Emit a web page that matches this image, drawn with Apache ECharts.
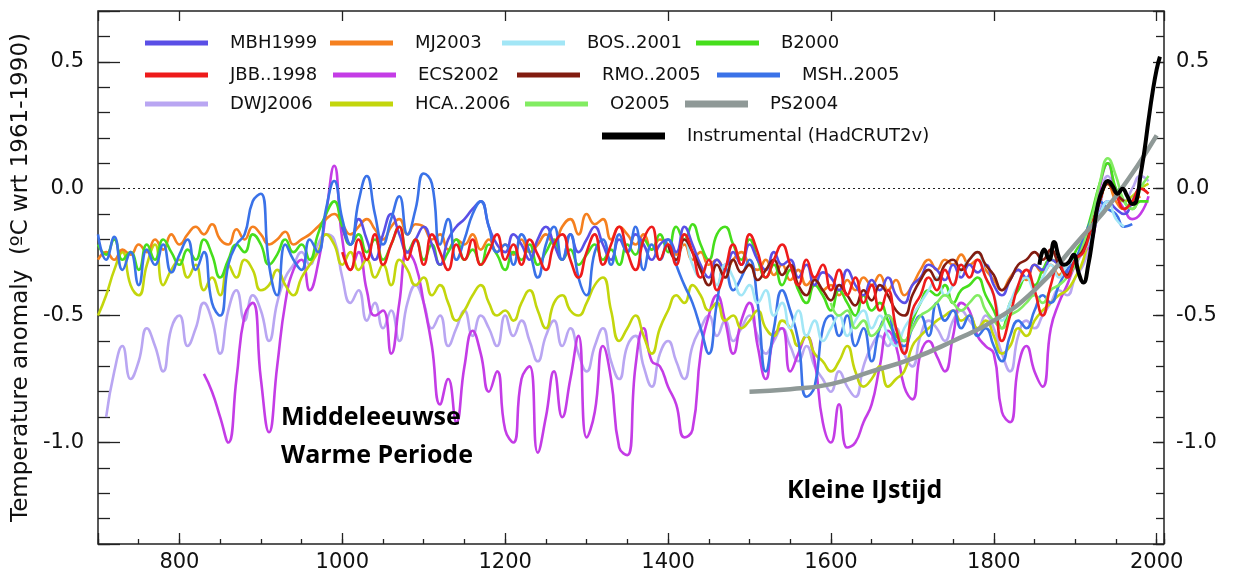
<!DOCTYPE html>
<html><head><meta charset="utf-8">
<script src="https://cdn.jsdelivr.net/npm/echarts@6/dist/echarts.min.js"></script>
<style>html,body{margin:0;padding:0;background:#fff}#c{width:1233px;height:578px}</style>
</head><body><div id="c"></div>
<script>
// ---- DATA (decadal values) ----
const STEP = 10;
const mbh1999Start = 1000;
const mbh1999 = [-0.15,-0.22,-0.12,-0.20,-0.28,-0.18,-0.10,-0.18,-0.25,-0.20,-0.15,-0.22,-0.30,-0.20,-0.15,-0.12,-0.08,-0.05,-0.15,-0.22,-0.25,-0.18,-0.22,-0.28,-0.20,-0.15,-0.22,-0.28,-0.18,-0.25,-0.20,-0.15,-0.22,-0.28,-0.20,-0.25,-0.18,-0.22,-0.28,-0.22,-0.20,-0.25,-0.15,-0.22,-0.30,-0.35,-0.28,-0.32,-0.25,-0.30,-0.22,-0.28,-0.32,-0.25,-0.30,-0.28,-0.35,-0.30,-0.38,-0.33,-0.35,-0.40,-0.32,-0.38,-0.42,-0.36,-0.40,-0.35,-0.42,-0.45,-0.38,-0.35,-0.30,-0.32,-0.36,-0.30,-0.35,-0.30,-0.33,-0.30,-0.38,-0.42,-0.36,-0.32,-0.35,-0.30,-0.32,-0.28,-0.30,-0.33,-0.28,-0.25,-0.18,-0.10,-0.05,-0.08,-0.10,-0.05,0.02];
const mj2003Start = 700;
const mj2003 = [-0.28,-0.25,-0.28,-0.24,-0.26,-0.22,-0.25,-0.20,-0.24,-0.18,-0.22,-0.18,-0.15,-0.18,-0.14,-0.20,-0.22,-0.16,-0.20,-0.15,-0.18,-0.22,-0.20,-0.17,-0.22,-0.20,-0.18,-0.15,-0.12,-0.10,-0.14,-0.18,-0.15,-0.12,-0.16,-0.20,-0.15,-0.12,-0.18,-0.14,-0.15,-0.20,-0.18,-0.24,-0.20,-0.22,-0.18,-0.24,-0.20,-0.25,-0.22,-0.26,-0.20,-0.25,-0.22,-0.18,-0.22,-0.15,-0.12,-0.18,-0.10,-0.14,-0.12,-0.20,-0.15,-0.18,-0.22,-0.18,-0.24,-0.20,-0.22,-0.26,-0.22,-0.28,-0.25,-0.30,-0.28,-0.32,-0.28,-0.25,-0.30,-0.32,-0.28,-0.34,-0.30,-0.36,-0.32,-0.38,-0.35,-0.40,-0.38,-0.42,-0.36,-0.40,-0.35,-0.38,-0.34,-0.40,-0.36,-0.42,-0.38,-0.32,-0.28,-0.32,-0.28,-0.30,-0.26,-0.30,-0.28,-0.32,-0.36,-0.40,-0.35,-0.32,-0.36,-0.30,-0.33,-0.30,-0.34,-0.30,-0.28,-0.22,-0.15,-0.05,0.02,-0.05,-0.08,-0.05,-0.03];
const bos2001Start = 1400;
const bos2001 = [-0.22,-0.28,-0.20,-0.30,-0.35,-0.28,-0.38,-0.30,-0.35,-0.42,-0.38,-0.45,-0.40,-0.50,-0.45,-0.55,-0.48,-0.58,-0.52,-0.60,-0.55,-0.50,-0.58,-0.52,-0.48,-0.55,-0.50,-0.58,-0.62,-0.55,-0.50,-0.45,-0.40,-0.35,-0.42,-0.38,-0.32,-0.28,-0.25,-0.35,-0.42,-0.52,-0.45,-0.38,-0.35,-0.40,-0.35,-0.30,-0.35,-0.30,-0.28,-0.25,-0.18,-0.10,-0.05,-0.12,-0.15];
const b2000Start = 700;
const b2000 = [-0.22,-0.26,-0.20,-0.28,-0.25,-0.32,-0.22,-0.28,-0.20,-0.25,-0.30,-0.24,-0.28,-0.20,-0.26,-0.35,-0.28,-0.22,-0.25,-0.18,-0.22,-0.30,-0.26,-0.20,-0.25,-0.22,-0.28,-0.18,-0.10,-0.05,-0.15,-0.22,-0.18,-0.25,-0.20,-0.28,-0.22,-0.15,-0.25,-0.20,-0.28,-0.22,-0.30,-0.25,-0.20,-0.28,-0.24,-0.30,-0.22,-0.26,-0.32,-0.25,-0.28,-0.22,-0.30,-0.25,-0.20,-0.28,-0.24,-0.30,-0.26,-0.22,-0.28,-0.24,-0.30,-0.22,-0.26,-0.20,-0.24,-0.18,-0.25,-0.15,-0.20,-0.14,-0.22,-0.28,-0.18,-0.15,-0.22,-0.28,-0.20,-0.28,-0.35,-0.30,-0.38,-0.32,-0.40,-0.45,-0.38,-0.42,-0.48,-0.40,-0.45,-0.50,-0.42,-0.48,-0.45,-0.52,-0.58,-0.60,-0.52,-0.45,-0.40,-0.42,-0.38,-0.45,-0.40,-0.38,-0.35,-0.42,-0.48,-0.55,-0.45,-0.40,-0.35,-0.38,-0.32,-0.28,-0.30,-0.35,-0.25,-0.20,-0.10,0.02,0.10,0.00,-0.05,-0.08,-0.05,-0.05];
const jbb1998Start = 1000;
const jbb1998 = [-0.25,-0.32,-0.20,-0.28,-0.18,-0.30,-0.22,-0.15,-0.28,-0.20,-0.30,-0.18,-0.25,-0.32,-0.22,-0.28,-0.20,-0.30,-0.25,-0.18,-0.28,-0.22,-0.30,-0.20,-0.26,-0.32,-0.22,-0.18,-0.28,-0.35,-0.25,-0.18,-0.30,-0.22,-0.15,-0.25,-0.32,-0.20,-0.15,-0.28,-0.22,-0.30,-0.18,-0.25,-0.35,-0.28,-0.40,-0.32,-0.22,-0.30,-0.18,-0.25,-0.35,-0.28,-0.22,-0.30,-0.38,-0.28,-0.35,-0.30,-0.40,-0.32,-0.42,-0.35,-0.45,-0.38,-0.48,-0.40,-0.55,-0.65,-0.48,-0.42,-0.35,-0.40,-0.32,-0.38,-0.30,-0.35,-0.28,-0.35,-0.42,-0.60,-0.50,-0.38,-0.32,-0.40,-0.50,-0.38,-0.30,-0.35,-0.28,-0.25,-0.15,-0.05,0.03,-0.02,-0.08,-0.05,0.00,-0.02];
const ecs2002Start = 830;
const ecs2002 = [-0.73,-0.80,-0.90,-1.00,-0.75,-0.50,-0.45,-0.75,-0.96,-0.70,-0.45,-0.32,-0.28,-0.40,-0.30,-0.10,0.09,-0.20,-0.32,-0.25,-0.40,-0.50,-0.48,-0.65,-0.45,-0.25,-0.30,-0.45,-0.62,-0.85,-0.75,-0.92,-0.70,-0.56,-0.65,-0.80,-0.72,-0.95,-1.00,-0.75,-0.70,-1.04,-0.90,-0.72,-0.90,-0.75,-0.58,-0.98,-0.88,-0.62,-0.75,-1.02,-1.05,-0.70,-0.55,-0.68,-0.70,-0.78,-0.85,-0.98,-0.95,-0.65,-0.50,-0.42,-0.52,-0.65,-0.52,-0.45,-0.62,-0.75,-0.58,-0.55,-0.72,-0.65,-0.58,-0.68,-0.92,-1.00,-0.85,-1.02,-1.00,-0.92,-0.85,-0.70,-0.56,-0.62,-0.78,-0.83,-0.65,-0.60,-0.66,-0.72,-0.58,-0.45,-0.48,-0.58,-0.62,-0.65,-0.88,-0.92,-0.70,-0.62,-0.72,-0.78,-0.55,-0.45,-0.38,-0.30,-0.25,-0.22,0.00,0.10,-0.02,-0.08,-0.12,-0.10,-0.03];
const rmo2005Start = 1400;
const rmo2005 = [-0.22,-0.28,-0.20,-0.25,-0.32,-0.38,-0.30,-0.35,-0.28,-0.33,-0.30,-0.36,-0.32,-0.28,-0.34,-0.30,-0.38,-0.42,-0.36,-0.40,-0.44,-0.38,-0.42,-0.46,-0.40,-0.44,-0.38,-0.42,-0.48,-0.50,-0.42,-0.36,-0.32,-0.36,-0.30,-0.28,-0.32,-0.28,-0.25,-0.30,-0.34,-0.40,-0.36,-0.30,-0.28,-0.25,-0.28,-0.24,-0.30,-0.34,-0.28,-0.24,-0.15,-0.05,0.02,-0.02,-0.05];
const msh2005Start = 700;
const msh2005 = [-0.18,-0.28,-0.19,-0.32,-0.25,-0.38,-0.24,-0.30,-0.22,-0.33,-0.26,-0.20,-0.32,-0.25,-0.45,-0.50,-0.30,-0.22,-0.18,-0.05,-0.02,-0.30,-0.42,-0.22,-0.28,-0.32,-0.20,-0.25,-0.08,0.03,-0.12,-0.22,-0.05,0.05,-0.10,-0.22,-0.12,-0.03,-0.18,-0.08,0.06,0.02,-0.22,-0.12,-0.28,-0.20,-0.10,-0.05,-0.15,-0.25,-0.22,-0.30,-0.18,-0.25,-0.35,-0.22,-0.15,-0.28,-0.18,-0.35,-0.42,-0.25,-0.20,-0.30,-0.18,-0.25,-0.15,-0.32,-0.22,-0.28,-0.20,-0.30,-0.38,-0.45,-0.55,-0.65,-0.45,-0.30,-0.40,-0.35,-0.28,-0.45,-0.72,-0.55,-0.40,-0.48,-0.60,-0.82,-0.78,-0.55,-0.50,-0.58,-0.50,-0.62,-0.55,-0.68,-0.55,-0.50,-0.60,-0.62,-0.55,-0.50,-0.58,-0.45,-0.52,-0.48,-0.55,-0.50,-0.58,-0.55,-0.62,-0.68,-0.58,-0.52,-0.55,-0.48,-0.42,-0.45,-0.38,-0.32,-0.28,-0.20,-0.12,-0.05,-0.08,-0.10,-0.15,-0.14];
const dwj2006Start = 710;
const dwj2006 = [-0.90,-0.72,-0.62,-0.75,-0.68,-0.55,-0.62,-0.72,-0.55,-0.50,-0.62,-0.55,-0.45,-0.52,-0.65,-0.48,-0.40,-0.52,-0.42,-0.48,-0.60,-0.45,-0.35,-0.30,-0.25,-0.30,-0.22,-0.18,-0.20,-0.35,-0.45,-0.40,-0.52,-0.45,-0.55,-0.48,-0.60,-0.45,-0.38,-0.45,-0.55,-0.50,-0.62,-0.55,-0.48,-0.58,-0.50,-0.55,-0.62,-0.50,-0.58,-0.52,-0.60,-0.68,-0.58,-0.52,-0.62,-0.55,-0.65,-0.72,-0.62,-0.55,-0.68,-0.75,-0.62,-0.58,-0.70,-0.78,-0.65,-0.60,-0.68,-0.75,-0.62,-0.55,-0.50,-0.58,-0.52,-0.60,-0.55,-0.50,-0.58,-0.65,-0.60,-0.55,-0.62,-0.68,-0.62,-0.70,-0.75,-0.80,-0.72,-0.78,-0.82,-0.70,-0.62,-0.58,-0.62,-0.55,-0.65,-0.70,-0.58,-0.52,-0.55,-0.60,-0.52,-0.48,-0.52,-0.55,-0.50,-0.55,-0.65,-0.72,-0.58,-0.52,-0.55,-0.50,-0.45,-0.40,-0.42,-0.35,-0.30,-0.20,-0.08,0.05,0.00,-0.05,0.00,0.05,0.03];
const hca2006Start = 700;
const hca2006 = [-0.50,-0.42,-0.32,-0.25,-0.38,-0.42,-0.30,-0.22,-0.38,-0.32,-0.28,-0.35,-0.30,-0.40,-0.35,-0.42,-0.30,-0.35,-0.28,-0.32,-0.40,-0.38,-0.32,-0.38,-0.42,-0.35,-0.30,-0.25,-0.18,-0.22,-0.30,-0.25,-0.32,-0.28,-0.35,-0.30,-0.38,-0.28,-0.32,-0.38,-0.35,-0.42,-0.38,-0.45,-0.52,-0.48,-0.42,-0.38,-0.45,-0.50,-0.48,-0.52,-0.45,-0.40,-0.48,-0.55,-0.45,-0.42,-0.48,-0.50,-0.45,-0.38,-0.35,-0.48,-0.60,-0.55,-0.50,-0.58,-0.65,-0.55,-0.48,-0.42,-0.45,-0.38,-0.42,-0.48,-0.45,-0.52,-0.50,-0.55,-0.52,-0.48,-0.55,-0.58,-0.52,-0.55,-0.62,-0.58,-0.65,-0.68,-0.72,-0.68,-0.62,-0.72,-0.78,-0.75,-0.70,-0.78,-0.75,-0.72,-0.62,-0.58,-0.55,-0.52,-0.50,-0.48,-0.52,-0.50,-0.55,-0.52,-0.58,-0.65,-0.62,-0.55,-0.58,-0.52,-0.48,-0.45,-0.42,-0.40,-0.35,-0.28,-0.15,-0.05,0.02,-0.02,-0.05,-0.03,0.00,0.02];
const o2005Start = 1600;
const o2005 = [-0.45,-0.50,-0.48,-0.55,-0.52,-0.58,-0.55,-0.50,-0.55,-0.60,-0.55,-0.50,-0.48,-0.45,-0.42,-0.45,-0.48,-0.45,-0.42,-0.48,-0.52,-0.55,-0.50,-0.48,-0.45,-0.42,-0.45,-0.40,-0.38,-0.35,-0.30,-0.22,-0.12,0.02,0.12,0.05,-0.05,-0.08,0.00,0.05];
const ps2004Years = [1500,1550,1600,1650,1700,1750,1800,1850,1900,1950,2000];
const ps2004 = [-0.80,-0.79,-0.77,-0.72,-0.67,-0.60,-0.52,-0.40,-0.22,-0.03,0.21];
const instYears = [1856,1862,1868,1874,1880,1886,1892,1898,1904,1910,1916,1922,1928,1934,1940,1946,1952,1958,1964,1970,1975,1980,1985,1990,1995,2000,2004];
const instVals = [-0.30,-0.24,-0.28,-0.21,-0.27,-0.30,-0.29,-0.26,-0.33,-0.37,-0.30,-0.18,-0.06,0.00,0.03,0.01,-0.02,0.00,-0.03,-0.06,-0.05,0.05,0.15,0.27,0.38,0.47,0.52];

function decadal(start, vals){ return vals.map((v,i)=>[start + i*STEP, v]); }
function paired(years, vals){ return years.map((y,i)=>[y, vals[i]]); }

const seriesDefs = [
  {name:'DWJ2006', color:'#b9a6f2', data: decadal(dwj2006Start, dwj2006)},
  {name:'ECS2002', color:'#c43ce6', data: decadal(ecs2002Start, ecs2002)},
  {name:'HCA..2006', color:'#c3d60c', data: decadal(hca2006Start, hca2006)},
  {name:'MJ2003', color:'#f5801f', data: decadal(mj2003Start, mj2003)},
  {name:'B2000', color:'#46de1c', data: decadal(b2000Start, b2000)},
  {name:'MBH1999', color:'#5a4fe6', data: decadal(mbh1999Start, mbh1999)},
  {name:'MSH..2005', color:'#3a72e8', data: decadal(msh2005Start, msh2005)},
  {name:'BOS..2001', color:'#a2e6f6', data: decadal(bos2001Start, bos2001)},
  {name:'O2005', color:'#82ec62', data: decadal(o2005Start, o2005)},
  {name:'RMO..2005', color:'#821c10', data: decadal(rmo2005Start, rmo2005)},
  {name:'JBB..1998', color:'#ee1b1b', data: decadal(jbb1998Start, jbb1998)},
  {name:'PS2004', color:'#8f9997', data: paired(ps2004Years, ps2004), width:4.5},
  {name:'Instrumental (HadCRUT2v)', color:'#000000', data: paired(instYears, instVals), width:4}
];

// legend placement: [name, swatch left, row centre, swatch height]
const legendLayout = [
  ['MBH1999',145,45,5],['MJ2003',330,45,5],['BOS..2001',502,45,5],['B2000',696,45,5],
  ['JBB..1998',145,77,5],['ECS2002',333,77,5],['RMO..2005',517,77,5],['MSH..2005',717,77,5],
  ['DWJ2006',145,106,5],['HCA..2006',330,106,5],['O2005',525,106,5],['PS2004',685,106,7],
  ['Instrumental (HadCRUT2v)',602,138,7]
];

const FONT = 'DejaVu Sans';
const TICK = {color:'#222', width:1.3};
const NOLINE = {show:false, onZero:false};
const fmtX = v => (v % 200 === 0 ? String(v) : '');
const fmtY = v => (Math.abs(Math.round(v*10) % 5) === 0 ? v.toFixed(1) : '');
const yRange = {min:-1.4, max:0.7};
const xRange = {min:700, max:2009};

const chart = echarts.init(document.getElementById('c'), null, {renderer:'canvas'});
const series = seriesDefs.map((d, i) => ({
  name: d.name, type:'line', xAxisIndex:0, yAxisIndex:0,
  data: d.data, smooth: 0.5, showSymbol:false, symbol:'none',
  color: d.color,
  lineStyle:{color:d.color, width: d.width || 2.6},
  z: 2 + i, silent:true,
  markLine: i === 0 ? {silent:true, symbol:['none','none'], label:{show:false},
    lineStyle:{type:[2,3], color:'#222', width:1.2}, data:[{yAxis:0}]} : undefined
}));

const option = {
  animation:false,
  backgroundColor:'#ffffff',
  grid:{left:98, right:69, top:11, bottom:34, show:true, borderColor:'#222', borderWidth:1.5, backgroundColor:'transparent'},
  legend: legendLayout.map(([name, x, y, h]) => ({
    data:[name], left:x, top:y-11, padding:0, itemWidth:63, itemHeight:h, icon:'rect',
    selectedMode:false, textStyle:{fontFamily:FONT, fontSize:18, color:'#111', padding:[0,0,0,17]}
  })),
  xAxis:[
    Object.assign({type:'value', position:'bottom', splitNumber:7, axisLine:NOLINE, splitLine:{show:false},
      axisTick:{inside:true, length:11, lineStyle:TICK},
      axisLabel:{formatter:fmtX, fontFamily:FONT, fontSize:21, color:'#111', margin:8}}, xRange),
    Object.assign({type:'value', position:'bottom', interval:50, axisLine:NOLINE, splitLine:{show:false},
      axisTick:{inside:true, length:5, lineStyle:TICK}, axisLabel:{show:false}}, xRange),
    Object.assign({type:'value', position:'top', splitNumber:7, axisLine:NOLINE, splitLine:{show:false},
      axisTick:{inside:true, length:10, lineStyle:TICK}, axisLabel:{show:false}}, xRange)
  ],
  yAxis:[
    Object.assign({type:'value', position:'left', splitNumber:4, axisLine:NOLINE, splitLine:{show:false},
      name:'Temperature anomaly  (ºC wrt 1961-1990)', nameLocation:'middle', nameGap:64,
      nameTextStyle:{fontFamily:FONT, fontSize:23, color:'#111'},
      axisTick:{inside:true, length:22, lineStyle:TICK},
      axisLabel:{formatter:fmtY, fontFamily:FONT, fontSize:21, color:'#111', margin:14}}, yRange),
    Object.assign({type:'value', position:'left', interval:0.1, axisLine:NOLINE, splitLine:{show:false},
      axisTick:{inside:true, length:12, lineStyle:TICK}, axisLabel:{show:false}}, yRange),
    Object.assign({type:'value', position:'right', splitNumber:4, axisLine:NOLINE, splitLine:{show:false},
      axisTick:{inside:true, length:11, lineStyle:TICK},
      axisLabel:{formatter:fmtY, fontFamily:FONT, fontSize:21, color:'#111', margin:12}}, yRange),
    Object.assign({type:'value', position:'right', interval:0.1, axisLine:NOLINE, splitLine:{show:false},
      axisTick:{inside:true, length:8, lineStyle:TICK}, axisLabel:{show:false}}, yRange)
  ],
  graphic:[
    {type:'text', left:281, top:399, z:100, style:{text:'Middeleeuwse\nWarme Periode', font:'bold 25px "Open Sans"', lineHeight:38, fill:'#000'}},
    {type:'text', left:787, top:474, z:100, style:{text:'Kleine IJstijd', font:'bold 25px "Open Sans"', lineHeight:34, fill:'#000'}}
  ],
  series
};
chart.setOption(option);
</script>
</body></html>
